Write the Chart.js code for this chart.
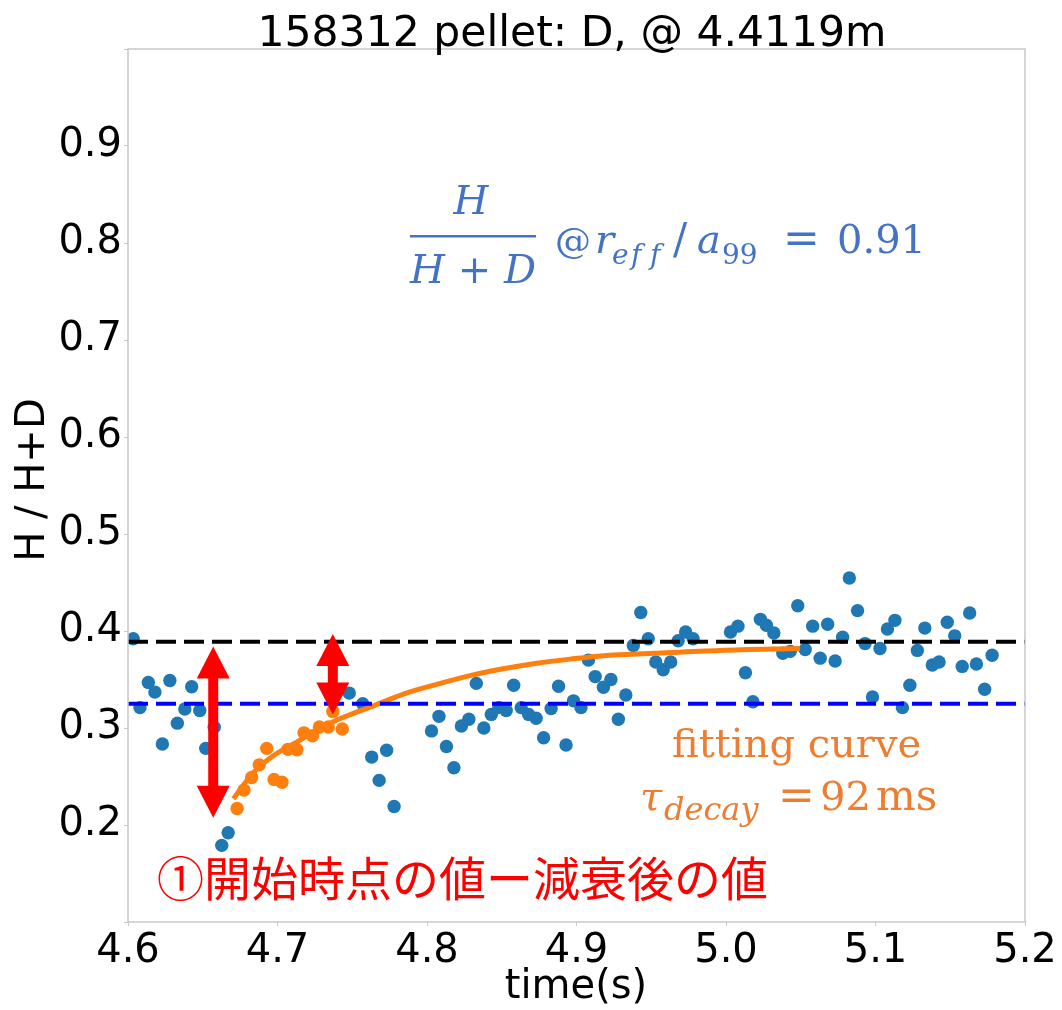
<!DOCTYPE html>
<html>
<head>
<meta charset="utf-8">
<script src="https://cdn.jsdelivr.net/npm/chart.js@4.4.1/dist/chart.umd.min.js"></script>
<style>
html,body{margin:0;padding:0;background:#fff;}
canvas{display:block;}
</style>
</head>
<body>
<canvas id="c" width="1062" height="1010"></canvas>
<script>
// ---- data ----
const titleText = '158312 pellet: D, @ 4.4119m';
const xLabel = 'time(s)';
const yLabel = 'H / H+D';

const blueT = [4.6035,4.608,4.6136,4.618,4.623,4.628,4.633,4.638,4.6426,4.648,4.652,4.6577,4.6627,4.667,
  4.748,4.757,4.763,4.768,4.773,4.778,
  4.803,4.808,4.813,4.818,4.823,4.828,4.833,4.838,4.843,4.848,4.853,4.858,4.863,4.868,4.873,4.878,4.883,4.888,4.893,4.898,
  4.903,4.908,4.9125,4.918,4.923,4.928,4.933,4.938,4.943,4.948,4.953,4.958,4.963,4.968,4.973,4.978,
  5.003,5.008,5.013,5.018,5.023,5.027,5.032,5.038,5.043,5.048,5.053,5.058,5.063,5.068,5.073,5.078,5.0825,5.088,5.093,5.098,
  5.103,5.108,5.113,5.118,5.123,5.128,5.133,5.138,5.1425,5.148,5.153,5.158,5.163,5.1675,5.173,5.178];
const blueV = [0.392,0.321,0.347,0.337,0.2835,0.349,0.305,0.3196,0.3426,0.318,0.279,0.3007,0.179,0.192,
  0.336,0.325,0.270,0.246,0.277,0.219,
  0.297,0.312,0.281,0.259,0.302,0.309,0.346,0.300,0.314,0.321,0.318,0.344,0.321,0.314,0.310,0.290,0.320,0.343,0.2825,0.328,
  0.321,0.370,0.353,0.342,0.350,0.309,0.334,0.385,0.419,0.392,0.368,0.360,0.368,0.390,0.399,0.392,
  0.399,0.405,0.357,0.327,0.412,0.406,0.398,0.377,0.379,0.426,0.381,0.405,0.372,0.407,0.369,0.3935,0.4546,0.421,0.387,0.332,
  0.382,0.402,0.411,0.321,0.344,0.380,0.403,0.365,0.368,0.409,0.395,0.3635,0.4186,0.366,0.340,0.375];

const orangeT = [4.673,4.6776,4.6827,4.6878,4.6928,4.6977,4.703,4.707,4.713,4.7177,4.7235,4.728,4.734,4.737,4.7433];
const orangeV = [0.217,0.236,0.249,0.262,0.279,0.247,0.244,0.278,0.2776,0.295,0.292,0.301,0.301,0.317,0.299];

const fitT = [4.6705,4.6838,4.6972,4.7106,4.724,4.7373,4.7507,4.7619,4.7842,4.8065,4.8288,4.851,4.8734,4.8957,4.918,4.9514,4.996,5.0495];
const fitV = [0.227,0.254,0.2714,0.2835,0.2955,0.3065,0.315,0.3215,0.335,0.345,0.354,0.361,0.3667,0.371,0.3746,0.377,0.380,0.382];

const levelBlack = 0.389;   // value before (start)
const levelBlue  = 0.325;   // value after decay
const lineT = [4.6, 5.2];

// double-headed arrows: x, top, bottom (data units)
const arrowT   = [4.657, 4.737];
const arrowTop = [0.384, 0.397];
const arrowBot = [0.2075, 0.314];

const xMin = 4.6, xMax = 5.2, xStep = 0.1;
const yMin = 0.1, yMax = 1.0, yStep = 0.1;
const yTickShown = ['0.2','0.3','0.4','0.5','0.6','0.7','0.8','0.9'];

const pts = (xs, ys) => xs.map((x, i) => ({x, y: ys[i]}));

const annot = {
  id: 'annot',
  afterDatasetsDraw(chart) {
    const ctx = chart.ctx, xs = chart.scales.x, ys = chart.scales.y;
    ctx.save();
    ctx.fillStyle = '#ff0000';
    const hl = 32, hw = 16.5, sw = 5;
    for (let i = 0; i < arrowT.length; i++) {
      const x = xs.getPixelForValue(arrowT[i]);
      const yt = ys.getPixelForValue(arrowTop[i]);
      const yb = ys.getPixelForValue(arrowBot[i]);
      ctx.fillRect(x - sw, yt + hl - 1, 2 * sw, (yb - yt) - 2 * hl + 2);
      ctx.beginPath();
      ctx.moveTo(x, yt); ctx.lineTo(x + hw, yt + hl); ctx.lineTo(x - hw, yt + hl); ctx.closePath(); ctx.fill();
      ctx.beginPath();
      ctx.moveTo(x, yb); ctx.lineTo(x + hw, yb - hl); ctx.lineTo(x - hw, yb - hl); ctx.closePath(); ctx.fill();
    }
    ctx.restore();
  },
  afterDraw(chart) {
    const ctx = chart.ctx, ca = chart.chartArea;
    ctx.save();
    // frame
    ctx.strokeStyle = '#c8c8c8';
    ctx.lineWidth = 1.5;
    ctx.strokeRect(ca.left, ca.top, ca.right - ca.left, ca.bottom - ca.top);

    const T = (s, x, y, font, color, align) => {
      ctx.font = font; ctx.fillStyle = color; ctx.textAlign = align || 'left';
      ctx.textBaseline = 'alphabetic'; ctx.fillText(s, x, y);
    };
    // title and axis labels
    T(titleText, 572, 46, '42.5px "DejaVu Sans"', '#000', 'center');
    T(xLabel, 576, 998, '40px "DejaVu Sans"', '#000', 'center');
    ctx.save();
    ctx.translate(44, 480);
    ctx.rotate(-Math.PI / 2);
    T(yLabel, 0, 0, '40px "DejaVu Sans"', '#000', 'center');
    ctx.restore();

    // blue formula
    const B = '#4472c4';
    const it = s => 'italic ' + s + 'px "DejaVu Serif"';
    const rg = s => s + 'px "DejaVu Serif"';
    T('H', 471, 214, it(40), B, 'center');
    ctx.fillStyle = B; ctx.fillRect(410, 235, 126, 2.5);
    T('H + D', 473, 283, it(40), B, 'center');
    T('@', 555, 253, rg(36), B);
    T('r', 595, 253, it(40), B);
    T('e', 612, 264, it(28), B);
    T('f', 631, 264, it(28), B);
    T('f', 650, 264, it(28), B);
    T('/', 673, 253, rg(42), B);
    T('a', 697, 253, it(40), B);
    T('99', 722, 264, rg(28), B);
    T('=', 783, 253, rg(44), B);
    T('0.91', 837, 253, rg(40), B);

    // orange text
    const O = '#ed7d31';
    T('fitting curve', 672, 757, rg(40), O);
    T('\u03c4', 640, 810, it(40), O);
    T('decay', 664, 820, it(32), O);
    T('=', 778, 810, rg(44), O);
    T('92', 820, 810, rg(40), O);
    T('ms', 876, 810, rg(42), O);

    // red text
    T('\u2460\u958b\u59cb\u6642\u70b9\u306e\u5024\u30fc\u6e1b\u8870\u5f8c\u306e\u5024', 157, 896, '47px "Noto Sans CJK JP"', '#ff0000');
    ctx.restore();
  }
};

new Chart(document.getElementById('c'), {
  type: 'scatter',
  data: {
    datasets: [
      { type: 'line', data: pts(lineT, [levelBlack, levelBlack]), borderColor: '#000', borderWidth: 4,
        borderDash: [20, 8], pointRadius: 0, fill: false, order: 1 },
      { type: 'line', data: pts(lineT, [levelBlue, levelBlue]), borderColor: '#0000ff', borderWidth: 4,
        borderDash: [20, 8], pointRadius: 0, fill: false, order: 2 },
      { type: 'line', data: pts(fitT, fitV), borderColor: '#ff7f0e', borderWidth: 5,
        cubicInterpolationMode: 'monotone', pointRadius: 0, fill: false, order: 3 },
      { data: pts(orangeT, orangeV), backgroundColor: '#ff7f0e', borderWidth: 0, pointRadius: 6.7, order: 4 },
      { data: pts(blueT, blueV), backgroundColor: '#1f77b4', borderWidth: 0, pointRadius: 6.7, order: 5 }
    ]
  },
  options: {
    responsive: false,
    animation: false,
    devicePixelRatio: 1,
    layout: { padding: { top: 49, right: 37, left: 0, bottom: 0 } },
    plugins: { legend: { display: false }, tooltip: { enabled: false }, title: { display: false } },
    scales: {
      x: {
        type: 'linear', min: xMin, max: xMax,
        ticks: { stepSize: xStep, color: '#000', font: { family: 'DejaVu Sans', size: 40 }, padding: 2,
          maxRotation: 0, autoSkip: false, callback: v => Number(v).toFixed(1) },
        grid: { display: true, drawOnChartArea: false, drawTicks: true, tickLength: 4, color: '#c8c8c8' },
        border: { display: false },
        afterFit: s => { s.height = 88; }
      },
      y: {
        type: 'linear', min: yMin, max: yMax,
        ticks: { stepSize: yStep, color: '#000', font: { family: 'DejaVu Sans', size: 40 }, padding: 2,
          autoSkip: false, callback: v => { const s = Number(v).toFixed(1); return yTickShown.includes(s) ? s : ''; } },
        grid: { display: true, drawOnChartArea: false, drawTicks: true, tickLength: 4, color: '#c8c8c8' },
        border: { display: false },
        afterFit: s => { s.width = 128; }
      }
    }
  },
  plugins: [annot]
});
</script>
</body>
</html>
